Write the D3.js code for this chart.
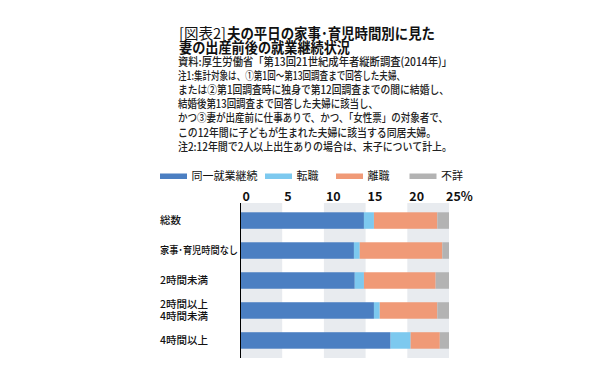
<!DOCTYPE html>
<html>
<head>
<meta charset="utf-8">
<script src="https://cdn.jsdelivr.net/npm/d3@7"></script>
<style>
  body { margin: 0; background: #fff; }
  svg { display: block; font-family: "Noto Sans CJK JP", "Noto Sans", sans-serif; }
</style>
</head>
<body>
<svg id="chart" width="596" height="388"></svg>
<script>
// data (percent)
var categories = ["総数", "家事･育児時間なし", "2時間未満", "2時間以上\n4時間未満", "4時間以上"];
var seriesNames = ["同一就業継続", "転職", "離職", "不詳"];
var keizoku = [14.8, 13.6, 13.7, 16.0, 18.0];
var tenshoku = [1.2, 0.7, 1.1, 0.7, 2.4];
var rishoku = [7.6, 9.9, 8.6, 6.9, 3.5];
var fusho = [1.4, 0.8, 1.6, 1.4, 1.1];
var tickValues = [0, 5, 10, 15, 20, 25];
var colors = ["#4b7fc2", "#7dc9ef", "#f09a77", "#b3b3b3"];

// title pieces: text, weight, x, line, width
var titleParts = [
  {t: "[図表2]", w: "normal", x: 179, line: 0, len: 47},
  {t: "夫の平日の家事･育児時間別に見た", w: "bold", x: 227, line: 0, len: 208},
  {t: "妻の出産前後の就業継続状況", w: "bold", x: 179, line: 1, len: 171}
];
var notes = [
  "資料:厚生労働省「第13回21世紀成年者縦断調査(2014年)」",
  "注1:集計対象は、①第1回～第13回調査まで回答した夫婦、",
  "または②第1回調査時に独身で第12回調査までの間に結婚し、",
  "結婚後第13回調査まで回答した夫婦に該当し、",
  "かつ③妻が出産前に仕事ありで、かつ、「女性票」の対象者で、",
  "この12年間に子どもが生まれた夫婦に該当する同居夫婦。",
  "注2:12年間で2人以上出生ありの場合は、末子について計上。"
];
var noteWidths = [274, 227, 271, 200, 270, 258, 274];

var svg = d3.select("#chart");

// title
titleParts.forEach(function(p){
  svg.append("text")
    .attr("x", p.x)
    .attr("y", 38.5 + p.line * 14.5)
    .attr("font-size", 14.5)
    .attr("font-weight", p.w)
    .attr("fill", "#111")
    .attr("textLength", p.len)
    .attr("lengthAdjust", "spacingAndGlyphs")
    .text(p.t);
});

// notes
notes.forEach(function(n, i){
  svg.append("text")
    .attr("x", 178)
    .attr("y", 65.7 + i * 14.17)
    .attr("font-size", 11.5)
    .attr("font-weight", 500)
    .attr("fill", "#222")
    .attr("textLength", noteWidths[i])
    .attr("lengthAdjust", "spacingAndGlyphs")
    .text(n);
});

// scales
var x = d3.scaleLinear().domain([0, 25]).range([240.5, 449]);
var y = d3.scaleBand().domain(categories).range([203, 358])
  .paddingInner(0.45).paddingOuter(0.31);

var rows = categories.map(function(c, i){
  return {cat: c, "同一就業継続": keizoku[i], "転職": tenshoku[i], "離職": rishoku[i], "不詳": fusho[i]};
});
var stacked = d3.stack().keys(seriesNames)(rows);

// background stripes
var yr = y.range();
svg.append("g").selectAll("rect")
  .data(d3.range(0, 25, 10))
  .enter().append("rect")
  .attr("x", function(d){ return x(d); })
  .attr("width", function(d){ return x(d + 5) - x(d); })
  .attr("y", yr[0])
  .attr("height", yr[1] - yr[0])
  .attr("fill", "#e8ebef");

// bars
svg.append("g").selectAll("g")
  .data(stacked)
  .enter().append("g")
  .attr("fill", function(d, i){ return colors[i]; })
  .selectAll("rect")
  .data(function(d){ return d; })
  .enter().append("rect")
  .attr("x", function(d){ return x(d[0]); })
  .attr("width", function(d){ return x(d[1]) - x(d[0]); })
  .attr("y", function(d){ return y(d.data.cat); })
  .attr("height", y.bandwidth());

// axis line
svg.append("line")
  .attr("x1", x(0)).attr("x2", x(0))
  .attr("y1", yr[0]).attr("y2", yr[1])
  .attr("stroke", "#000").attr("stroke-width", 1);

// tick labels on top
svg.append("g").selectAll("text")
  .data(tickValues)
  .enter().append("text")
  .attr("x", function(d, i){ return x(d) + (i == tickValues.length - 1 ? -3 : 2); })
  .attr("y", 200.5)
  .attr("font-size", 12.5)
  .attr("font-weight", "bold")
  .attr("fill", "#111")
  .text(function(d, i){ return i == tickValues.length - 1 ? d + "%" : d; });

// category labels
categories.forEach(function(c){
  var parts = c.split("\n");
  var cy = y(c) + y.bandwidth() / 2;
  parts.forEach(function(p, j){
    var t = svg.append("text")
      .attr("x", 160)
      .attr("y", cy + (j - (parts.length - 1) / 2) * 11.7)
      .attr("dy", "0.36em")
      .attr("font-size", 10.5)
      .attr("font-weight", 500)
      .attr("fill", "#111")
      .text(p);
    if (t.node().getComputedTextLength() > 78) {
      t.attr("textLength", 78).attr("lengthAdjust", "spacingAndGlyphs");
    }
  });
});

// legend
var legendX = [160, 265, 336, 409.5];
var lg = svg.append("g").selectAll("g")
  .data(seriesNames)
  .enter().append("g")
  .attr("transform", function(d, i){ return "translate(" + legendX[i] + ",0)"; });
lg.append("rect")
  .attr("y", 173.5).attr("width", 27).attr("height", 5.5)
  .attr("fill", function(d, i){ return colors[i]; });
lg.append("text")
  .attr("x", 31.5).attr("y", 176.3).attr("dy", "0.36em")
  .attr("font-size", 11)
  .attr("fill", "#111")
  .text(function(d){ return d; });
</script>
</body>
</html>
